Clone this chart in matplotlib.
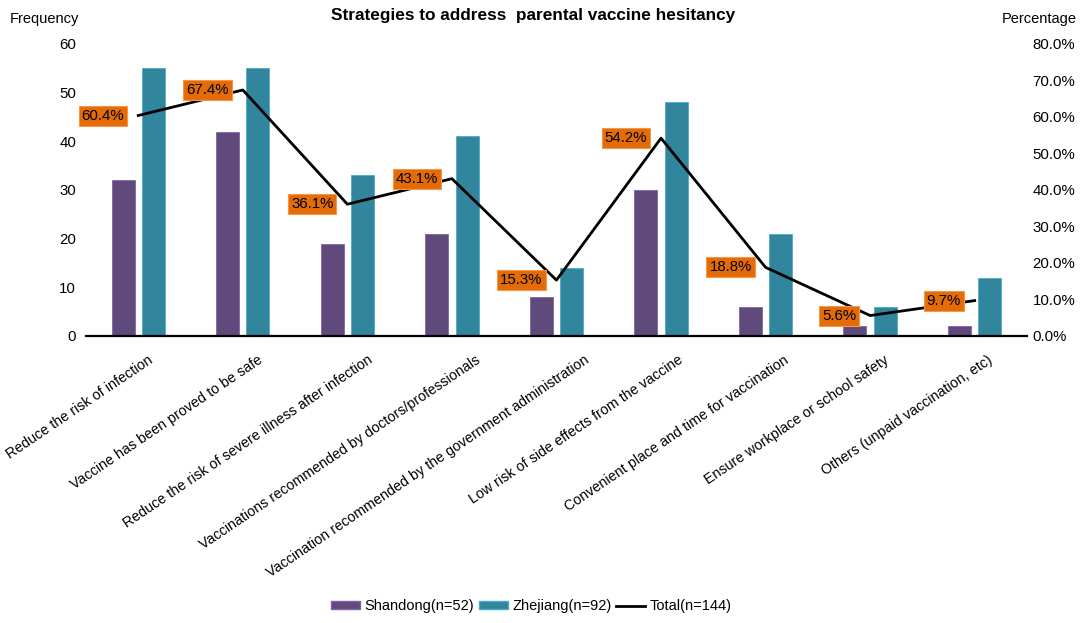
import matplotlib.pyplot as plt
import matplotlib.transforms as mtransforms
import numpy as np
from matplotlib.font_manager import FontProperties
from matplotlib.lines import Line2D
from matplotlib.patches import Patch
from matplotlib.textpath import TextPath

plt.rcParams["font.family"] = ["Liberation Sans", "DejaVu Sans"]

categories = [
    "Reduce the risk of infection",
    "Vaccine has been proved to be safe",
    "Reduce the risk of severe illness after infection",
    "Vaccinations recommended by doctors/professionals",
    "Vaccination recommended by the government administration",
    "Low risk of side effects from the vaccine",
    "Convenient place and time for vaccination",
    "Ensure workplace or school safety",
    "Others (unpaid vaccination, etc)",
]
shandong = [32, 42, 19, 21, 8, 30, 6, 2, 2]
zhejiang = [55, 55, 33, 41, 14, 48, 21, 6, 12]
total_pct = [60.4, 67.4, 36.1, 43.1, 15.3, 54.2, 18.8, 5.6, 9.7]

PURPLE = "#604A7B"
TEAL = "#31859C"
ORANGE = "#E36C09"
FS = 10.5
FS_TICK = 10.8
FS_CAT = 10.3

fig = plt.figure(figsize=(10.84, 6.23), dpi=100)
ax = fig.add_axes([0.0793, 0.4607, 0.8681, 0.4687])

x = np.arange(len(categories))
width = 0.22
offset = 0.145

ax.bar(x - offset, shandong, width, color=PURPLE, edgecolor="#8064A2", linewidth=0.6)
ax.bar(x + offset, zhejiang, width, color=TEAL, edgecolor="#4BACC6", linewidth=0.6)

ax.set_xlim(-0.5, len(categories) - 0.5)
ax.set_ylim(0, 60)
ax.set_yticks(range(0, 61, 10))
ax.tick_params(axis="y", length=0, pad=7, labelsize=FS_TICK)
ax.set_xticks([])

for side in ["top", "left", "right"]:
    ax.spines[side].set_visible(False)
ax.spines["bottom"].set_linewidth(1.6)

# category labels: right end shifted in proportion to label length
fp = FontProperties(family="Liberation Sans", size=FS_CAT)
for xi, name in zip(x, categories):
    length_pt = TextPath((0, 0), name, size=FS_CAT, prop=fp).get_extents().width
    shift = mtransforms.ScaledTranslation(
        (0.084 * length_pt - 3.3) / 72, -0.17, fig.dpi_scale_trans
    )
    ax.text(xi, 0, name, transform=ax.get_xaxis_transform() + shift,
            rotation=34, rotation_mode="anchor", ha="right", va="top",
            fontsize=FS_CAT)

ax2 = ax.twinx()
ax2.set_ylim(0, 0.8)
ax2.set_yticks(np.arange(0, 0.81, 0.1))
ax2.set_yticklabels([f"{v * 100:.1f}%" for v in np.arange(0, 0.81, 0.1)])
ax2.tick_params(axis="y", length=0, pad=4, labelsize=FS_TICK)
for side in ["top", "left", "right", "bottom"]:
    ax2.spines[side].set_visible(False)

pct = [p / 100 for p in total_pct]
ax2.plot(x, pct, color="black", linewidth=2)

for xi, p, txt in zip(x, pct, total_pct):
    ax2.annotate(
        f"{txt:.1f}%",
        (xi, p),
        xytext=(-10, 0),
        textcoords="offset points",
        ha="right",
        va="center",
        fontsize=FS_TICK,
        bbox=dict(boxstyle="square,pad=0.2", facecolor=ORANGE,
                  edgecolor="#F79646", linewidth=0.8),
    )

fig.text(0.492, 0.975, "Strategies to address  parental vaccine hesitancy",
         ha="center", va="center", fontsize=12.4, fontweight="bold")
fig.text(0.009, 0.969, "Frequency", ha="left", va="center", fontsize=FS)
fig.text(0.993, 0.969, "Percentage", ha="right", va="center", fontsize=FS)

handles = [
    Patch(facecolor=PURPLE, edgecolor="#8064A2", label="Shandong(n=52)"),
    Patch(facecolor=TEAL, edgecolor="#4BACC6", label="Zhejiang(n=92)"),
    Line2D([0], [0], color="black", linewidth=2, label="Total(n=144)"),
]
fig.legend(handles=handles, loc="center", bbox_to_anchor=(0.49, 0.027),
           ncol=3, frameon=False, fontsize=FS, handlelength=2.0,
           handleheight=0.5, handletextpad=0.3, columnspacing=0.3)

fig.savefig("out.png", dpi=100)
